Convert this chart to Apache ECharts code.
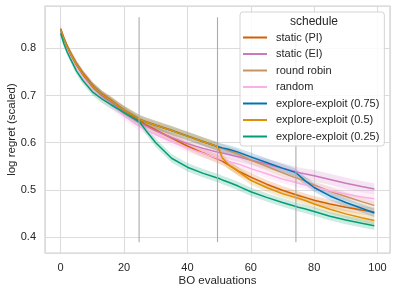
<!DOCTYPE html>
<html>
<head>
<meta charset="utf-8">
<script src="https://cdn.jsdelivr.net/npm/echarts@6/dist/echarts.min.js"></script>
<style>
html,body{margin:0;padding:0;background:#fff;}
#chart{width:398px;height:294px;}
</style>
</head>
<body>
<div id="chart"></div>
<script>
// ---- data ----
const X = [0,1,2,3,5,7,10,13,16,20,24,25,27,30,35,40,45,49,50,51,53,56,60,65,70,74,75,77,80,85,90,95,99];
const names = ['static (PI)','static (EI)','round robin','random','explore-exploit (0.75)','explore-exploit (0.5)','explore-exploit (0.25)'];
const meanPI = [0.840,0.822,0.806,0.792,0.768,0.748,0.723,0.704,0.690,0.669,0.651,0.646,0.638,0.627,0.610,0.593,0.578,0.567,0.564,0.561,0.553,0.540,0.527,0.512,0.499,0.490,0.488,0.484,0.478,0.470,0.463,0.457,0.453];
const meanEI = [0.838,0.818,0.802,0.788,0.763,0.743,0.718,0.700,0.685,0.664,0.646,0.642,0.635,0.625,0.611,0.598,0.588,0.581,0.579,0.578,0.575,0.570,0.563,0.555,0.546,0.539,0.537,0.534,0.530,0.522,0.514,0.507,0.502];
const meanRR = [0.842,0.822,0.806,0.792,0.767,0.746,0.721,0.703,0.689,0.670,0.654,0.650,0.645,0.638,0.627,0.615,0.603,0.593,0.590,0.588,0.583,0.576,0.563,0.550,0.536,0.526,0.524,0.519,0.510,0.497,0.486,0.475,0.467];
const meanRand = [0.838,0.816,0.799,0.785,0.760,0.739,0.713,0.694,0.680,0.657,0.638,0.634,0.627,0.617,0.602,0.589,0.577,0.568,0.566,0.564,0.560,0.555,0.545,0.534,0.523,0.516,0.514,0.511,0.506,0.498,0.491,0.485,0.481];
const meanEE75 = [0.840,0.820,0.804,0.790,0.765,0.745,0.720,0.702,0.688,0.669,0.653,0.649,0.644,0.637,0.626,0.614,0.602,0.593,0.591,0.589,0.586,0.580,0.570,0.558,0.546,0.537,0.532,0.520,0.505,0.487,0.473,0.461,0.451];
const meanEE50 = [0.840,0.820,0.804,0.790,0.765,0.745,0.720,0.702,0.688,0.669,0.653,0.649,0.644,0.637,0.626,0.614,0.602,0.593,0.585,0.568,0.553,0.539,0.520,0.505,0.492,0.484,0.482,0.478,0.470,0.459,0.449,0.441,0.435];
const meanEE25 = [0.832,0.810,0.793,0.779,0.752,0.732,0.708,0.693,0.680,0.664,0.648,0.643,0.625,0.600,0.567,0.548,0.535,0.526,0.524,0.521,0.516,0.508,0.496,0.484,0.473,0.465,0.463,0.460,0.454,0.444,0.436,0.429,0.424];
// confidence band half-widths
const hwPI = [0.006,0.006,0.006,0.006,0.007,0.007,0.007,0.007,0.008,0.008,0.008,0.008,0.008,0.008,0.009,0.009,0.009,0.009,0.009,0.009,0.009,0.009,0.009,0.009,0.009,0.009,0.009,0.009,0.009,0.009,0.009,0.009,0.009];
const hwEI = [0.006,0.006,0.006,0.007,0.007,0.008,0.008,0.008,0.008,0.008,0.008,0.008,0.008,0.009,0.009,0.009,0.009,0.010,0.010,0.010,0.010,0.010,0.010,0.011,0.011,0.011,0.011,0.011,0.012,0.012,0.012,0.012,0.012];
const hwRR = [0.006,0.006,0.006,0.007,0.007,0.008,0.008,0.008,0.008,0.009,0.009,0.009,0.009,0.009,0.009,0.009,0.009,0.009,0.009,0.009,0.009,0.009,0.009,0.009,0.009,0.009,0.009,0.009,0.009,0.009,0.009,0.009,0.009];
const hwRand = [0.006,0.006,0.007,0.007,0.008,0.008,0.009,0.009,0.009,0.009,0.009,0.009,0.009,0.009,0.009,0.009,0.009,0.009,0.009,0.009,0.009,0.009,0.009,0.009,0.009,0.009,0.009,0.009,0.009,0.010,0.010,0.010,0.010];
const hwEE75 = [0.006,0.006,0.006,0.007,0.007,0.008,0.008,0.008,0.008,0.009,0.009,0.009,0.009,0.009,0.009,0.009,0.009,0.009,0.009,0.009,0.009,0.009,0.009,0.009,0.009,0.009,0.009,0.009,0.009,0.009,0.009,0.009,0.009];
const hwEE50 = [0.006,0.006,0.006,0.007,0.007,0.008,0.008,0.008,0.008,0.009,0.009,0.009,0.009,0.009,0.009,0.009,0.009,0.009,0.009,0.009,0.009,0.009,0.009,0.009,0.009,0.009,0.009,0.009,0.009,0.009,0.009,0.009,0.009];
const hwEE25 = [0.006,0.006,0.007,0.007,0.008,0.008,0.008,0.008,0.008,0.008,0.008,0.008,0.008,0.009,0.009,0.009,0.009,0.009,0.009,0.009,0.009,0.009,0.009,0.009,0.009,0.009,0.009,0.009,0.009,0.009,0.009,0.009,0.009];
const phaseSwitches = [24.75, 49.5, 74.25];
const switchSpan = [0.389, 0.866];
const xTicks = [0,20,40,60,80,100];
const yTicks = [0.4,0.5,0.6,0.7,0.8];

// ---- styling ----
const colors = ['#d55e00','#cc78bc','#ca9161','#fbafe4','#0173b2','#de8f05','#029e73'];
const means = [meanPI, meanEI, meanRR, meanRand, meanEE75, meanEE50, meanEE25];
const hws = [hwPI, hwEI, hwRR, hwRand, hwEE75, hwEE50, hwEE25];
const FONT = '"Liberation Sans", Arial, sans-serif';
const TXT = '#262626';

const series = [];
// bands first
means.forEach((m, k) => {
  const data = X.map((x, i) => [x, m[i] - hws[k][i], m[i] + hws[k][i]]);
  series.push({
    type: 'custom',
    name: 'band' + k,
    data: data,
    encode: { x: 0, y: [1, 2] },
    silent: true,
    z: 2,
    renderItem: function (params, api) {
      if (params.dataIndex !== 0) return;
      const up = [], lo = [];
      for (let i = 0; i < data.length; i++) {
        up.push(api.coord([data[i][0], data[i][2]]));
        lo.push(api.coord([data[i][0], data[i][1]]));
      }
      return {
        type: 'polygon',
        shape: { points: up.concat(lo.reverse()) },
        style: { fill: colors[k], opacity: 0.2 }
      };
    }
  });
});
// lines
means.forEach((m, k) => {
  series.push({
    type: 'line',
    name: names[k],
    data: X.map((x, i) => [x, m[i]]),
    symbol: 'none',
    showSymbol: false,
    smooth: false,
    lineStyle: { color: colors[k], width: 1.5 },
    itemStyle: { color: colors[k] },
    z: 3
  });
});
// phase switch vertical lines
series.push({
  type: 'custom',
  name: 'switches',
  data: phaseSwitches.map(x => [x, switchSpan[0], switchSpan[1]]),
  encode: { x: 0, y: [1, 2] },
  silent: true,
  z: 4,
  renderItem: function (params, api) {
    const a = api.coord([api.value(0), api.value(1)]);
    const b = api.coord([api.value(0), api.value(2)]);
    return {
      type: 'line',
      shape: { x1: a[0], y1: a[1], x2: b[0], y2: b[1] },
      style: { stroke: '#ababab', lineWidth: 1.1 }
    };
  }
});

const chart = echarts.init(document.getElementById('chart'), null, { renderer: 'canvas' });
chart.setOption({
  animation: false,
  backgroundColor: '#ffffff',
  textStyle: { fontFamily: FONT },
  grid: {
    left: 45, right: 8, top: 6, bottom: 41,
    containLabel: false,
    outerBoundsMode: 'none',
    show: true, borderColor: '#cfcfcf', borderWidth: 1.2, backgroundColor: 'transparent'
  },
  xAxis: {
    type: 'value',
    min: -4.95, max: 103.95,
    name: 'BO evaluations',
    nameLocation: 'middle',
    nameGap: 22,
    nameMoveOverlap: false,
    nameTextStyle: { fontSize: 11.5, color: TXT, fontFamily: FONT },
    axisLine: { show: false },
    axisTick: { show: false },
    splitLine: { show: true, lineStyle: { color: '#dcdcdc', width: 1.1 } },
    axisLabel: {
      color: TXT, fontSize: 11, fontFamily: FONT, margin: 9,
      showMinLabel: true, showMaxLabel: true,
      formatter: function (v) {
        for (const t of xTicks) if (Math.abs(v - t) < 1e-6) return String(t);
        return '';
      }
    }
  },
  yAxis: {
    type: 'value',
    min: 0.366, max: 0.89,
    name: 'log regret (scaled)',
    nameLocation: 'middle',
    nameGap: 27,
    nameMoveOverlap: false,
    nameTextStyle: { fontSize: 11.5, color: TXT, fontFamily: FONT },
    axisLine: { show: false },
    axisTick: { show: false },
    splitLine: { show: true, lineStyle: { color: '#dcdcdc', width: 1.1 } },
    axisLabel: {
      color: TXT, fontSize: 11, fontFamily: FONT, margin: 9,
      formatter: function (v) {
        for (const t of yTicks) if (Math.abs(v - t) < 1e-6) return t.toFixed(1);
        return '';
      }
    }
  },
  legend: {
    data: names,
    orient: 'vertical',
    left: 240, top: 12,
    padding: [20, 5, 4, 3],
    icon: 'rect',
    itemWidth: 24, itemHeight: 2, itemGap: 5.5,
    backgroundColor: 'rgba(255,255,255,0.85)',
    borderColor: '#d4d4d4', borderWidth: 1, borderRadius: 3,
    textStyle: { fontSize: 11, color: TXT, fontFamily: FONT, padding: [0, 0, 0, 4], lineHeight: 11 },
    z: 10
  },
  graphic: [{
    type: 'text', left: 290, top: 16, z: 100,
    style: { text: 'schedule', font: '12px ' + FONT, fill: TXT }
  }],
  series: series
});
</script>
</body>
</html>
